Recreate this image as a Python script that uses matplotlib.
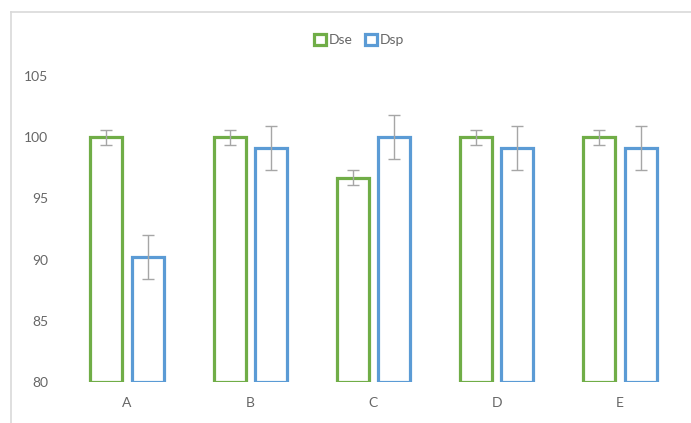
import matplotlib
matplotlib.use("Agg")
import matplotlib.pyplot as plt
from matplotlib.lines import Line2D
import numpy as np

categories = ["A", "B", "C", "D", "E"]
dse = [100.0, 100.0, 96.7, 100.0, 100.0]
dse_err = [0.6, 0.6, 0.6, 0.6, 0.6]
dsp = [90.2, 99.1, 100.0, 99.1, 99.1]
dsp_err = [1.8, 1.8, 1.8, 1.8, 1.8]
yticks = [80, 85, 90, 95, 100, 105]

plt.rcParams['font.family'] = ['Lato', 'DejaVu Sans']

fig = plt.figure(figsize=(6.91, 4.23), dpi=100)
ax = fig.add_axes([0.0948, 0.0969, 0.8914, 0.7234])

green = "#70AD47"
blue = "#5B9BD5"
x = np.arange(len(categories))
w = 0.26
off = 0.168
base = 80
ax.bar(x - off, np.array(dse) - base, bottom=base, width=w, facecolor="white",
       edgecolor=green, linewidth=2.3, label="Dse")
ax.bar(x + off, np.array(dsp) - base, bottom=base, width=w, facecolor="white",
       edgecolor=blue, linewidth=2.3, label="Dsp")
ax.errorbar(x - off, dse, yerr=dse_err, fmt="none", ecolor="#A6A6A6",
            elinewidth=1, capsize=4, capthick=1)
ax.errorbar(x + off, dsp, yerr=dsp_err, fmt="none", ecolor="#A6A6A6",
            elinewidth=1, capsize=4, capthick=1)

ax.set_xlim(-0.5, len(categories) - 0.5)
ax.set_ylim(80, 105)
ax.set_yticks(yticks)
ax.set_xticks(x)
ax.set_xticklabels(categories)
for s in ax.spines.values():
    s.set_visible(False)
ax.tick_params(axis="both", length=0, colors="#666666", labelsize=10)
ax.tick_params(axis="y", pad=12.5)
ax.tick_params(axis="x", pad=11)

leg = ax.legend(loc="center", bbox_to_anchor=(359 / 691, 1 - 40 / 423),
                bbox_transform=fig.transFigure, ncol=2, frameon=False,
                fontsize=10, handlelength=0.85, handleheight=0.85,
                handletextpad=0.2, columnspacing=0.9, labelcolor="#666666")

# light frame lines (top and left)
fig.add_artist(Line2D([11 / 691, 1], [1 - 12 / 423, 1 - 12 / 423],
                      transform=fig.transFigure, color="#D9D9D9", lw=1.2))
fig.add_artist(Line2D([11 / 691, 11 / 691], [0, 1 - 12 / 423],
                      transform=fig.transFigure, color="#D9D9D9", lw=1.2))

fig.savefig("out.png", dpi=100)
